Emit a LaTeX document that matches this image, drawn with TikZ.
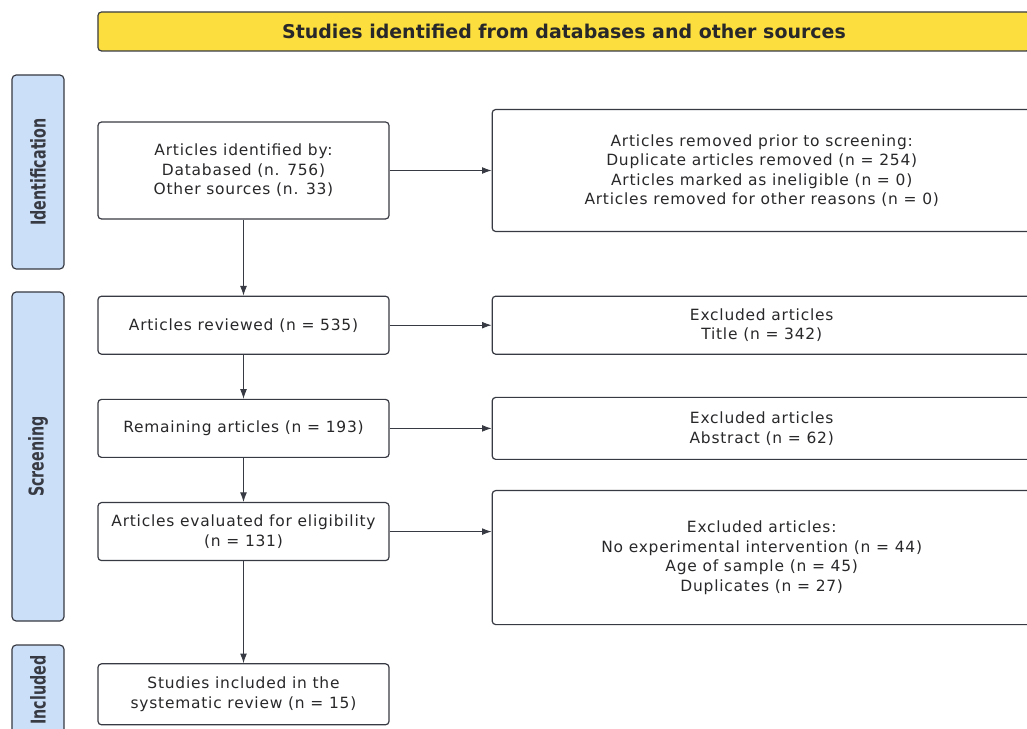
\documentclass[tikz,border=0pt]{standalone}
\usepackage{fontspec}
\setmainfont{DejaVu Sans}
\newfontfamily\boxfont[LetterSpace=5]{DejaVu Sans}
\newfontfamily\sidefont[FakeStretch=0.70]{DejaVu Sans}
\usetikzlibrary{positioning,arrows.meta}
\definecolor{bannergold}{RGB}{252,222,62}
\definecolor{stageblue}{RGB}{204,223,248}
\definecolor{edgegray}{RGB}{55,58,66}
\definecolor{inkgray}{RGB}{40,40,42}

\begin{document}
\begin{tikzpicture}[x=0.25mm, y=-0.25mm,
    box/.style={draw=edgegray, line width=0.85pt, rounded corners=2.5pt, align=center,
                fill=white, inner sep=0pt, text=inkgray, font=\boxfont\fontsize{11}{13.9}\selectfont},
    stage/.style={draw=edgegray, line width=0.85pt, rounded corners=3pt, fill=stageblue,
                  rotate=90, minimum height=13mm, inner sep=0pt, text=edgegray,
                  font=\sidefont\bfseries\fontsize{14.5}{16}\selectfont},
    arr/.style={-{Latex[length=2.4mm, width=1.7mm]}, line width=0.6pt, edgegray}]
    \useasboundingbox (0,0) rectangle (1027,729);
    \clip (0,0) rectangle (1027,729);
    % banner and stage labels
    \node[box, fill=bannergold, minimum width=233mm, minimum height=9.75mm,
          font=\bfseries\fontsize{13.5}{15}\selectfont] (banner) at (564,31.5)
          {Studies identified from databases and other sources};
    \node[stage, minimum width=48.5mm] (idlab) at (38,172) {Identification};
    \node[stage, minimum width=82.25mm] (scrlab) at (38,456.5) {Screening};
    \node[stage, minimum width=22.5mm] (inclab) at (38,690) {Included};
    % main column
    \node[box, minimum width=72.75mm, minimum height=24.25mm] (ident) at (243.5,170.5)
          {Articles identified by:\\Databased (n. 756)\\Other sources (n. 33)};
    \node[box, minimum width=72.75mm, minimum height=14.5mm, below=19mm of ident] (reviewed)
          {Articles reviewed (n = 535)};
    \node[box, minimum width=72.75mm, minimum height=14.5mm, below=11mm of reviewed] (remaining)
          {Remaining articles (n = 193)};
    \node[box, minimum width=72.75mm, minimum height=14.5mm, below=11mm of remaining] (eligible)
          {Articles evaluated for eligibility\\(n = 131)};
    \node[box, minimum width=72.75mm, minimum height=15.25mm, below=25.5mm of eligible] (included)
          {Studies included in the\\systematic review (n = 15)};
    % excluded column
    \node[box, minimum width=134.75mm, minimum height=30.5mm, right=25.5mm of ident] (removed)
          {Articles removed prior to screening:\\Duplicate articles removed (n = 254)\\
           Articles marked as ineligible (n = 0)\\Articles removed for other reasons (n = 0)};
    \node[box, minimum width=134.75mm, minimum height=14.5mm, right=25.5mm of reviewed] (extitle)
          {Excluded articles\\Title (n = 342)};
    \node[box, minimum width=134.75mm, minimum height=15.5mm, right=25.5mm of remaining] (exabstract)
          {Excluded articles\\Abstract (n = 62)};
    \node[box, minimum width=134.75mm, minimum height=33.5mm, right=25.5mm of eligible,
          yshift=-6.5mm] (exfull)
          {Excluded articles:\\No experimental intervention (n = 44)\\Age of sample (n = 45)\\
           Duplicates (n = 27)};
    % arrows
    \draw[arr] (ident) -- (reviewed);
    \draw[arr] (reviewed) -- (remaining);
    \draw[arr] (remaining) -- (eligible);
    \draw[arr] (eligible) -- (included);
    \draw[arr] (ident) -- (removed);
    \draw[arr] (reviewed) -- (extitle);
    \draw[arr] (remaining) -- (exabstract);
    \draw[arr] (eligible.east) -- (eligible.east -| exfull.west);
\end{tikzpicture}
\end{document}
